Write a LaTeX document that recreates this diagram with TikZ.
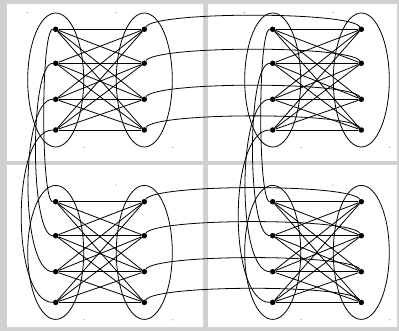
\documentclass[tikz,border=0pt]{standalone}
\usepackage{tikz}
\usetikzlibrary{shapes.geometric}
\definecolor{frame}{HTML}{D0D0D0}

\begin{document}
\begin{tikzpicture}[x=1pt,y=-1pt,
v/.style={circle,fill,inner sep=0pt,minimum size=5.5pt},
ring/.style={draw,line width=0.8pt,ellipse,inner sep=0pt,minimum width=56pt,minimum height=134pt},
edge/.style={line width=0.8pt},
speck/.style={fill=black!70}]
\useasboundingbox (0,0) rectangle (399,331);
\fill[frame] (0,0) rectangle (399,331);
\fill[white] (7,4) rectangle (203,161) (208,4) rectangle (397,161)
  (7,165) rectangle (203,327) (208,165) rectangle (397,327);
% one K_{4,4} in each panel
\foreach \p/\x/\y in {a/0/0,b/217/0,c/0/172.4,d/217/172.4}{
  \node[ring] (\p-el) at (55.7+\x,80+\y) {};
  \node[ring] (\p-er) at (144.3+\x,80+\y) {};
  \foreach \e in {el,er}{
    \fill[speck] (\p-\e.west |- \p-\e.north) circle (0.5pt);
    \fill[speck] (\p-\e.east |- \p-\e.south) circle (0.5pt);
  }
  \foreach \i/\r in {1/29.3,2/63.3,3/99.3,4/130}{
    \node[v] (\p-l\i) at (55.7+\x,\r+\y) {};
    \node[v] (\p-r\i) at (144.3+\x,\r+\y) {};
  }
  \foreach \i in {1,...,4}
    \foreach \j in {1,...,4}
      \draw[edge] (\p-l\i) -- (\p-r\j);
}
% links between the panels
\foreach \i in {1,...,4}{
  \draw[edge] (a-r\i) .. controls +(11,-18) and +(-11,-18) .. (b-r\i);
  \draw[edge] (c-r\i) .. controls +(11,-18) and +(-11,-18) .. (d-r\i);
}
\foreach \i/\c in {1/15,2/26,3/36,4/45}{
  \draw[edge] (a-l\i) .. controls +(-\c,0) and +(-\c,0) .. (c-l\i);
  \draw[edge] (b-l\i) .. controls +(-\c,0) and +(-\c,0) .. (d-l\i);
}
\end{tikzpicture}
\end{document}
